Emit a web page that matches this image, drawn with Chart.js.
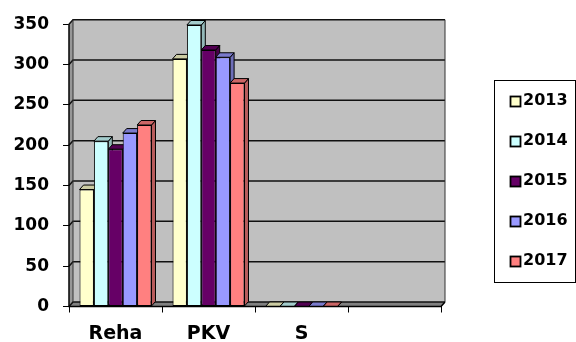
<!DOCTYPE html>
<html>
<head>
<meta charset="utf-8">
<script src="https://cdn.jsdelivr.net/npm/chart.js@4/dist/chart.umd.min.js"></script>
<style>
  html, body { margin: 0; padding: 0; background: #fff; }
  #wrap { width: 576px; height: 342px; }
</style>
</head>
<body>
<div id="wrap"><canvas id="c" width="576" height="342"></canvas></div>
<script>
// Categories and yearly series
const categories = ['Reha', 'PKV', 'S', ''];
const years = ['2013', '2014', '2015', '2016', '2017'];
const v2013 = [145, 307, 0, null];
const v2014 = [205, 349, 0, null];
const v2015 = [195, 318, 0, null];
const v2016 = [215, 309, 0, null];
const v2017 = [225, 277, 0, null];
const seriesValues = [v2013, v2014, v2015, v2016, v2017];
const seriesColors = ['#FFFFCC', '#CCFFFF', '#660066', '#9999FF', '#FF8080'];
const yMin = 0, yMax = 350, yStep = 50;

const FONT = "'DejaVu Sans', sans-serif";
const DX = 4, DY = 4.5; // pseudo-3D depth offset

function shade(hex, f) {
  const n = parseInt(hex.slice(1), 16);
  const r = Math.round(((n >> 16) & 255) * f);
  const g = Math.round(((n >> 8) & 255) * f);
  const b = Math.round((n & 255) * f);
  return `rgb(${r},${g},${b})`;
}

function poly(ctx, pts, fill, stroke, lw) {
  ctx.beginPath();
  ctx.moveTo(pts[0][0], pts[0][1]);
  for (let i = 1; i < pts.length; i++) ctx.lineTo(pts[i][0], pts[i][1]);
  ctx.closePath();
  if (fill) { ctx.fillStyle = fill; ctx.fill(); }
  if (stroke) { ctx.strokeStyle = stroke; ctx.lineWidth = lw || 1; ctx.stroke(); }
}

const boxPlugin = {
  id: 'box3d',
  beforeDatasetsDraw(chart) {
    const { ctx, chartArea: a } = chart;
    const ys = chart.scales.y;
    const L = a.left, R = a.right, T = a.top, B = a.bottom;
    ctx.save();
    // back wall
    poly(ctx, [[L + DX, T - DY], [R + DX, T - DY], [R + DX, B - DY], [L + DX, B - DY]], '#C0C0C0');
    // left side wall
    poly(ctx, [[L, T], [L + DX, T - DY], [L + DX, B - DY], [L, B]], '#979797');
    // floor
    poly(ctx, [[L, B], [R, B], [R + DX, B - DY], [L + DX, B - DY]], '#808080');
    // gridlines across side wall and back wall
    ctx.strokeStyle = '#111';
    ctx.lineWidth = 1.5;
    for (let v = yMin; v <= yMax; v += yStep) {
      const y = ys.getPixelForValue(v);
      ctx.beginPath();
      ctx.moveTo(L, y);
      ctx.lineTo(L + DX, y - DY);
      ctx.lineTo(R + DX, y - DY);
      ctx.stroke();
    }
    // wall edges
    ctx.lineWidth = 1;
    ctx.strokeStyle = '#333';
    ctx.beginPath();
    ctx.moveTo(R + DX, T - DY);
    ctx.lineTo(R + DX, B - DY);
    ctx.moveTo(L + DX, T - DY);
    ctx.lineTo(L + DX, B - DY);
    ctx.stroke();

    // bar side and top faces, left to right
    const items = [];
    chart.data.datasets.forEach((ds, di) => {
      const meta = chart.getDatasetMeta(di);
      meta.data.forEach((el, i) => {
        if (ds.data[i] === null || ds.data[i] === undefined) return;
        const p = el.getProps(['x', 'y', 'base', 'width'], true);
        items.push({ p, color: ds.backgroundColor });
      });
    });
    items.sort((m, n) => m.p.x - n.p.x);
    items.forEach(({ p, color }) => {
      const l = p.x - p.width / 2, r = p.x + p.width / 2;
      const top = Math.min(p.y, p.base), base = Math.max(p.y, p.base);
      poly(ctx, [[r, top], [r + DX, top - DY], [r + DX, base - DY], [r, base]], shade(color, 0.72), '#000', 1);
      poly(ctx, [[l, top], [l + DX, top - DY], [r + DX, top - DY], [r, top]], shade(color, 0.8), '#000', 1);
    });
    ctx.restore();
  },
  afterDatasetsDraw(chart) {
    const { ctx, chartArea: a } = chart;
    const L = a.left, R = a.right, T = a.top, B = a.bottom;
    ctx.save();
    ctx.strokeStyle = '#000';
    ctx.lineWidth = 1.5;
    ctx.beginPath();
    ctx.moveTo(L, T);
    ctx.lineTo(L, B);
    ctx.lineTo(R, B);
    ctx.lineTo(R + DX, B - DY);
    ctx.stroke();
    ctx.restore();
  },
  afterDraw(chart) {
    // legend box on the right
    const { ctx } = chart;
    ctx.save();
    ctx.strokeStyle = '#000';
    ctx.lineWidth = 1;
    ctx.fillStyle = '#fff';
    ctx.fillRect(494.5, 80.5, 81, 202);
    ctx.strokeRect(494.5, 80.5, 81, 202);
    ctx.font = `bold 16px ${FONT}`;
    ctx.textBaseline = 'middle';
    ctx.textAlign = 'left';
    chart.data.datasets.forEach((ds, i) => {
      const cy = 101 + i * 40;
      ctx.fillStyle = ds.backgroundColor;
      ctx.fillRect(510.5, cy - 4.5, 10, 10);
      ctx.lineWidth = 1.8;
      ctx.strokeStyle = '#000';
      ctx.strokeRect(510.5, cy - 4.5, 10, 10);
      ctx.fillStyle = '#000';
      ctx.fillText(ds.label, 523, cy);
    });
    ctx.restore();
  }
};

new Chart(document.getElementById('c'), {
  type: 'bar',
  data: {
    labels: categories,
    datasets: years.map((yr, i) => ({
      label: yr,
      data: seriesValues[i],
      backgroundColor: seriesColors[i],
      borderColor: '#000',
      borderWidth: 1,
      borderSkipped: false,
      categoryPercentage: 0.774,
      barPercentage: 1.0
    }))
  },
  options: {
    responsive: false,
    animation: false,
    devicePixelRatio: 1,
    layout: { padding: { top: 24, right: 135, left: 0, bottom: 0 } },
    plugins: {
      legend: { display: false },
      tooltip: { enabled: false }
    },
    scales: {
      x: {
        offset: true,
        grid: { display: true, drawOnChartArea: false, drawTicks: true, tickLength: 6, color: '#000', offset: true },
        border: { display: true, color: '#000' },
        ticks: { color: '#000', padding: 10, font: { family: FONT, weight: 'bold', size: 19 }, maxRotation: 0 },
        afterFit(s) { s.height = 35.5; }
      },
      y: {
        min: yMin,
        max: yMax,
        grid: { display: true, drawOnChartArea: false, drawTicks: true, tickLength: 6, color: '#000' },
        border: { display: true, color: '#000' },
        ticks: { stepSize: yStep, color: '#000', padding: 14, font: { family: FONT, weight: 'bold', size: 17 } },
        afterFit(s) { s.width = 69; }
      }
    }
  },
  plugins: [boxPlugin]
});
</script>
</body>
</html>
